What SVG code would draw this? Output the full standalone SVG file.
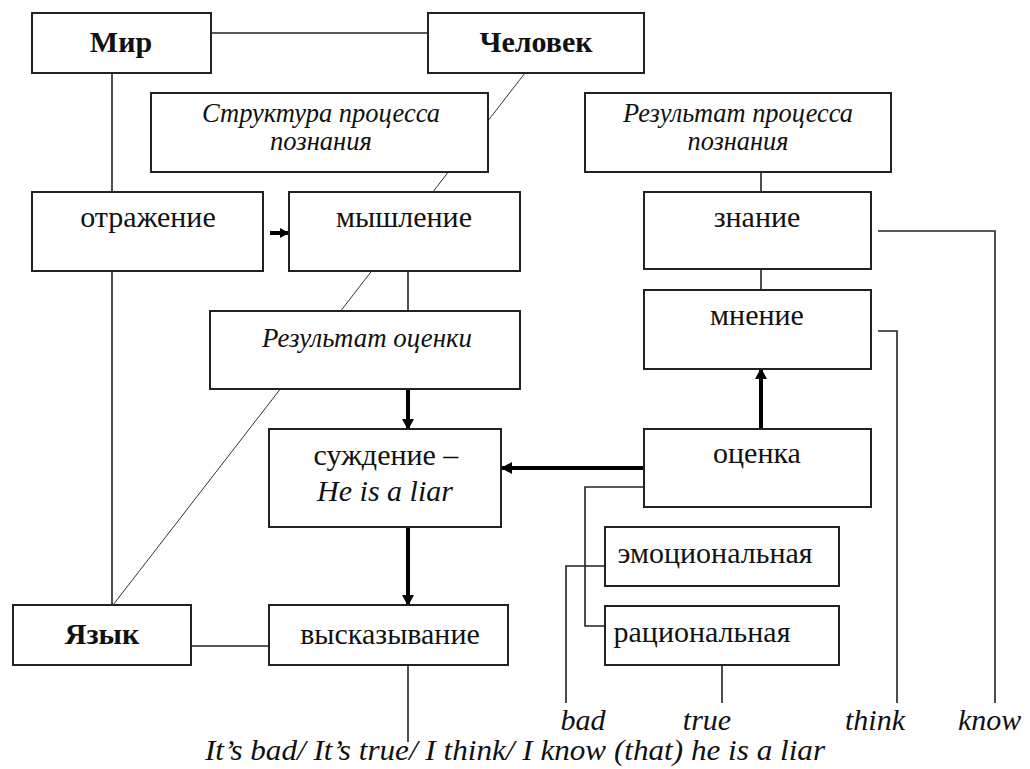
<svg xmlns="http://www.w3.org/2000/svg" width="1030" height="769" viewBox="0 0 1030 769" font-family="Liberation Serif, DejaVu Serif, serif">
<style>
.box{fill:#fff;stroke:#222;stroke-width:2}
.ln{fill:none;stroke:#222;stroke-width:1.6}
.thin{fill:none;stroke:#333;stroke-width:1}
.thick{fill:none;stroke:#000;stroke-width:4}
text{fill:#111}
.t{font-size:30px;text-anchor:middle}
.b{font-weight:bold}
.i{font-style:italic}
.c{font-size:27px;font-style:italic;text-anchor:middle}
.e{font-size:30px;font-style:italic}
</style>
<defs>
<marker id="ah" markerUnits="userSpaceOnUse" markerWidth="12" markerHeight="12" refX="10" refY="6" orient="auto">
<path d="M0,0 L11,6 L0,12 Z" fill="#000"/>
</marker>
<marker id="ahs" markerUnits="userSpaceOnUse" markerWidth="10" markerHeight="10" refX="9" refY="5" orient="auto">
<path d="M0,0 L9,5 L0,10 Z" fill="#000"/>
</marker>
</defs>
<rect width="1030" height="769" fill="#fff"/>
<g id="connectors">
<line class="thin" x1="525" y1="73" x2="113" y2="605"/>
<line class="ln" x1="112" y1="73" x2="112" y2="605"/>
<line class="ln" x1="211" y1="33" x2="428" y2="33"/>
<line class="ln" x1="408" y1="271" x2="408" y2="311"/>
<line class="ln" x1="761" y1="172" x2="761" y2="192"/>
<line class="ln" x1="761" y1="269" x2="761" y2="290"/>
<polyline class="ln" points="878,231 995,231 995,703"/>
<polyline class="ln" points="878,331 897,331 897,703"/>
<polyline class="ln" points="644,487 585,487 585,626 605,626"/>
<polyline class="ln" points="605,566 566,566 566,703"/>
<line class="ln" x1="722" y1="665" x2="722" y2="703"/>
<line class="ln" x1="191" y1="646" x2="269" y2="646"/>
<line class="ln" x1="408" y1="665" x2="408" y2="742"/>
<line class="thick" x1="270" y1="233" x2="289" y2="233" stroke-width="3" marker-end="url(#ahs)"/>
<line class="thick" x1="408" y1="389" x2="408" y2="429" marker-end="url(#ah)"/>
<line class="thick" x1="408" y1="527" x2="408" y2="605" marker-end="url(#ah)"/>
<line class="thick" x1="761" y1="429" x2="761" y2="369" marker-end="url(#ah)"/>
<line class="thick" x1="644" y1="468" x2="502" y2="468" marker-end="url(#ah)"/>
</g>
<g id="mir"><rect class="box" x="32" y="13" width="179" height="60"/><text class="t b" x="121" y="52">Мир</text></g>
<g id="chelovek"><rect class="box" x="428" y="13" width="216" height="60"/><text class="t b" x="536" y="52">Человек</text></g>
<g id="struktura"><rect class="box" x="151" y="93" width="337" height="79"/><text class="c" x="321" y="122" textLength="238" lengthAdjust="spacingAndGlyphs">Структура процесса</text><text class="c" x="321" y="150" textLength="102" lengthAdjust="spacingAndGlyphs">познания</text></g>
<g id="rezultat-poznaniya"><rect class="box" x="585" y="93" width="306" height="79"/><text class="c" x="738" y="122" textLength="230" lengthAdjust="spacingAndGlyphs">Результат процесса</text><text class="c" x="738" y="150" textLength="101" lengthAdjust="spacingAndGlyphs">познания</text></g>
<g id="otrazhenie"><rect class="box" x="32" y="192" width="231" height="79"/><text class="t" x="148" y="227">отражение</text></g>
<g id="myshlenie"><rect class="box" x="289" y="192" width="231" height="79"/><text class="t" x="404" y="227">мышление</text></g>
<g id="znanie"><rect class="box" x="644" y="192" width="227" height="77"/><text class="t" x="757" y="227">знание</text></g>
<g id="mnenie"><rect class="box" x="644" y="290" width="227" height="79"/><text class="t" x="757" y="325">мнение</text></g>
<g id="rezultat-ocenki"><rect class="box" x="210" y="311" width="310" height="78"/><text class="c" x="367" y="347" textLength="210" lengthAdjust="spacingAndGlyphs">Результат оценки</text></g>
<g id="suzhdenie"><rect class="box" x="269" y="429" width="232" height="98"/><text class="t" x="386" y="465">суждение –</text><text class="t i" x="385" y="501">He is a liar</text></g>
<g id="ocenka"><rect class="box" x="644" y="429" width="227" height="78"/><text class="t" x="757" y="463">оценка</text></g>
<g id="emocionalnaya"><rect class="box" x="605" y="527" width="234" height="59"/><text class="t" x="715" y="563">эмоциональная</text></g>
<g id="racionalnaya"><rect class="box" x="605" y="606" width="234" height="59"/><text class="t" x="702" y="642">рациональная</text></g>
<g id="yazyk"><rect class="box" x="13" y="605" width="178" height="60"/><text class="t b" x="102" y="644">Язык</text></g>
<g id="vyskazyvanie"><rect class="box" x="269" y="605" width="239" height="60"/><text class="t" x="390" y="644">высказывание</text></g>
<g id="labels">
<text class="e" x="583" y="730" text-anchor="middle">bad</text>
<text class="e" x="707" y="730" text-anchor="middle">true</text>
<text class="e" x="875" y="730" text-anchor="middle">think</text>
<text class="e" x="958" y="730">know</text>
<text class="e" x="205" y="760" textLength="620" lengthAdjust="spacingAndGlyphs">It’s bad/ It’s true/ I think/ I know (that) he is a liar</text>
</g>
</svg>
